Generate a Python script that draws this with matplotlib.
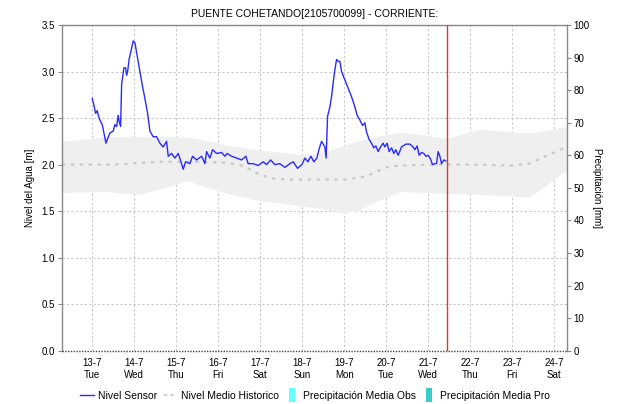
import matplotlib
matplotlib.use("Agg")
import matplotlib.pyplot as plt
from matplotlib.lines import Line2D
import numpy as np

plt.rcParams['font.family'] = ['Liberation Sans', 'DejaVu Sans']

# Nivel del sensor (dia de julio, metros)
sensor_dia = [13.000, 13.040, 13.081, 13.119, 13.143, 13.183, 13.238, 13.279, 13.326, 13.367,
              13.421, 13.500, 13.540, 13.581, 13.619, 13.643, 13.676, 13.700, 13.755, 13.795,
              13.819, 13.843, 13.881, 13.938, 13.976, 14.017, 14.081, 14.136, 14.190, 14.255,
              14.319, 14.374, 14.452, 14.533, 14.612, 14.690, 14.771, 14.810, 14.890, 14.969,
              15.048, 15.129, 15.167, 15.224, 15.326, 15.390, 15.486, 15.605, 15.683, 15.724,
              15.802, 15.867, 15.962, 16.081, 16.160, 16.214, 16.319, 16.438, 16.557, 16.660,
              16.714, 16.833, 16.952, 17.071, 17.152, 17.248, 17.350, 17.469, 17.588, 17.707,
              17.786, 17.890, 17.993, 18.064, 18.136, 18.207, 18.279, 18.350, 18.398, 18.462,
              18.500, 18.540, 18.571, 18.605, 18.660, 18.700, 18.738, 18.779, 18.819, 18.857,
              18.898, 18.938, 19.017, 19.095, 19.176, 19.255, 19.310, 19.374, 19.438, 19.493,
              19.533, 19.595, 19.652, 19.707, 19.755, 19.810, 19.867, 19.929, 19.969, 20.024,
              20.071, 20.129, 20.183, 20.231, 20.286, 20.367, 20.469, 20.564, 20.643, 20.683,
              20.738, 20.786, 20.843, 20.898, 20.945, 21.000, 21.057, 21.105, 21.160, 21.200,
              21.238, 21.279, 21.319, 21.374, 21.421]
sensor_nivel = [2.71, 2.64, 2.55, 2.58, 2.53, 2.48, 2.43, 2.34, 2.23, 2.28,
                2.34, 2.36, 2.43, 2.41, 2.53, 2.46, 2.41, 2.86, 3.04, 3.04,
                2.96, 3.00, 3.14, 3.25, 3.33, 3.31, 3.14, 3.00, 2.86, 2.71,
                2.55, 2.36, 2.30, 2.30, 2.23, 2.19, 2.25, 2.09, 2.12, 2.07,
                2.12, 2.01, 1.95, 2.03, 2.01, 2.09, 2.05, 2.09, 2.01, 2.14,
                2.07, 2.16, 2.12, 2.13, 2.09, 2.12, 2.09, 2.07, 2.05, 2.09,
                2.01, 2.01, 1.99, 2.03, 2.00, 2.05, 2.00, 2.01, 1.97, 2.01,
                2.03, 1.96, 2.00, 2.07, 2.03, 2.09, 2.03, 2.07, 2.16, 2.25,
                2.22, 2.19, 2.07, 2.52, 2.62, 2.73, 2.88, 3.02, 3.13, 3.11,
                3.11, 3.00, 2.91, 2.82, 2.73, 2.62, 2.53, 2.48, 2.42, 2.45,
                2.35, 2.27, 2.23, 2.18, 2.20, 2.14, 2.19, 2.23, 2.19, 2.23,
                2.14, 2.18, 2.12, 2.16, 2.10, 2.19, 2.22, 2.22, 2.19, 2.16,
                2.20, 2.10, 2.13, 2.12, 2.09, 2.10, 2.06, 2.00, 2.01, 2.01,
                2.14, 2.09, 2.01, 2.05, 2.04]

# Nivel medio historico
medio_dia = [12.28, 13.5, 14.6, 15.5, 16.2, 16.5, 16.8, 17.0, 17.3, 17.7, 18.5, 19.0,
             19.5, 20.0, 20.3, 21.0, 22.0, 23.0, 23.4, 24.3]
medio_nivel = [2.00, 2.00, 2.03, 2.03, 2.02, 2.00, 1.94, 1.89, 1.85, 1.84, 1.84, 1.84,
               1.87, 1.97, 1.99, 2.00, 2.00, 1.99, 2.01, 2.19]

# Rango historico (banda gris)
banda_dia = [12.28, 13.35, 14.1, 14.8, 15.25, 15.7, 16.3, 16.9, 17.94, 18.4, 18.95, 19.3,
             19.85, 20.35, 21.45, 22.2, 23.4, 24.3]
banda_sup = [2.25, 2.30, 2.30, 2.30, 2.30, 2.26, 2.20, 2.16, 2.11, 2.12, 2.20, 2.25,
             2.31, 2.35, 2.28, 2.38, 2.34, 2.41]
banda_inf = [1.70, 1.71, 1.68, 1.76, 1.83, 1.76, 1.68, 1.62, 1.56, 1.53, 1.48, 1.50,
             1.62, 1.71, 1.69, 1.68, 1.65, 1.94]

dias = [13, 14, 15, 16, 17, 18, 19, 20, 21, 22, 23, 24]
dias_semana = ['Tue', 'Wed', 'Thu', 'Fri', 'Sat', 'Sun', 'Mon', 'Tue', 'Wed', 'Thu', 'Fri', 'Sat']
ahora = 21.445

fig = plt.figure(figsize=(6.18, 4.04), dpi=100)
ax = fig.add_axes([0.1003, 0.132, 0.8167, 0.806])

ax.fill_between(banda_dia, banda_inf, banda_sup, color='#efefef', lw=0, zorder=1)
ax.plot(medio_dia, medio_nivel, color='#c8c8c8', lw=1.6, ls=(0, (1.5, 2.5)), zorder=2)
ax.plot(sensor_dia, sensor_nivel, color='#2a2aff', lw=1.0, zorder=3)
ax.axvline(ahora, color='#e03535', lw=1.0, zorder=4)
ax.axhline(0, color='#444444', lw=1.0, ls=(0, (1, 1)), zorder=5, clip_on=False)

ax.set_xlim(12.28, 24.3)
ax.set_ylim(0, 3.5)
ax.set_yticks(np.arange(0, 3.51, 0.5))
ax.set_yticklabels([f'{v:.1f}' for v in np.arange(0, 3.51, 0.5)])
ax.set_xticks(dias)
ax.set_xticklabels([f'{d}-7\n{s}' for d, s in zip(dias, dias_semana)], linespacing=1.3)
ax.grid(True, color='#c8c8c8', lw=0.8, ls=(0, (2, 2)))
ax.set_axisbelow(True)

ax.tick_params(axis='x', length=0, pad=5, labelsize=7)
ax.tick_params(axis='y', length=3, width=0.8, color='#888888', pad=2, labelsize=7)
ax.set_ylabel('Nivel del Agua [m]', fontsize=7, labelpad=5)
for lado in ['left', 'right', 'top']:
    ax.spines[lado].set_color('#888888')
    ax.spines[lado].set_linewidth(1.0)
ax.spines['bottom'].set_visible(False)

ax2 = ax.twinx()
ax2.set_ylim(0, 100)
ax2.set_yticks(np.arange(0, 101, 10))
ax2.tick_params(axis='y', length=3, width=0.8, color='#888888', pad=2, labelsize=7)
ax2.set_ylabel('Precipitación [mm]', fontsize=7, rotation=270, labelpad=9)
for lado in ['left', 'right', 'top', 'bottom']:
    ax2.spines[lado].set_visible(False)

ax.set_title('PUENTE COHETANDO[2105700099] - CORRIENTE:', fontsize=7.5, pad=6)

barra = [(-0.5, -1.0), (0.5, -1.0), (0.5, 1.0), (-0.5, 1.0), (-0.5, -1.0)]
handles = [
    Line2D([], [], color='#2a2aff', lw=1.0),
    Line2D([], [], color='#c8c8c8', lw=1.2, ls=(0, (2, 2))),
    Line2D([], [], ls='none', marker=barra, markersize=10, color='#66ffff', markeredgewidth=0),
    Line2D([], [], ls='none', marker=barra, markersize=10, color='#3ec9c9', markeredgewidth=0),
]
labels = ['Nivel Sensor', 'Nivel Medio Historico', 'Precipitación Media Obs', 'Precipitación Media Pro']
fig.legend(handles, labels, loc='lower center', bbox_to_anchor=(0.51, -0.016), ncol=4,
           frameon=False, fontsize=7.5, handlelength=1.3, handletextpad=0.4, columnspacing=0.6)

fig.savefig('out.png', dpi=100)
